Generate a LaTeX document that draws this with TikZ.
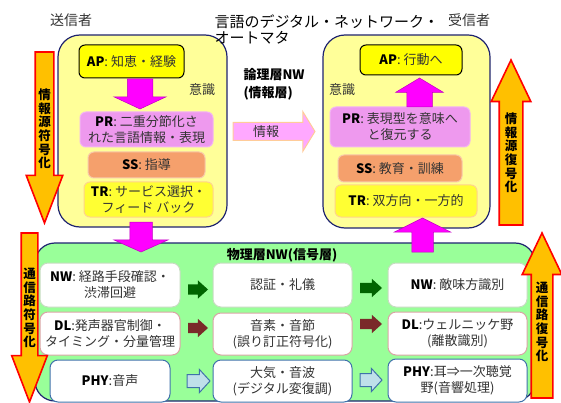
\documentclass[tikz,border=0pt]{standalone}
\usepackage{fontspec}
\setmainfont{Noto Sans CJK JP}
\usepackage{tikz}
\usetikzlibrary{shapes.arrows}

\definecolor{navy}{HTML}{1F2470}
\definecolor{paleyellow}{HTML}{FFFF99}
\definecolor{apyellow}{HTML}{FFFF00}
\definecolor{palegreen}{HTML}{99FF99}
\definecolor{orchidfill}{HTML}{EE99EE}
\definecolor{orchidline}{HTML}{F2B4F2}
\definecolor{salmonfill}{HTML}{F5A06C}
\definecolor{salmonline}{HTML}{F8C8A8}
\definecolor{trfill}{HTML}{FFFF33}
\definecolor{trline}{HTML}{FFD38C}
\definecolor{infofill}{HTML}{FFA8FF}
\definecolor{infoline}{HTML}{FFCC99}
\definecolor{brightmagenta}{HTML}{FF00FF}
\definecolor{magentaline}{HTML}{C000C0}
\definecolor{codeorange}{HTML}{FFC000}
\definecolor{codered}{HTML}{FF0000}
\definecolor{darkgreen}{HTML}{006400}
\definecolor{darkbrown}{HTML}{7A2A2A}
\definecolor{lightblue}{HTML}{BFE0EA}
\definecolor{steelblue}{HTML}{3F72AA}
\definecolor{greenline}{HTML}{C6DCC0}
\definecolor{pinkline}{HTML}{D9A5A5}
\definecolor{textgray}{HTML}{333333}

\tikzset{
  bigbox/.style={draw=navy, line width=1.2pt, rounded corners=22pt, inner sep=0pt},
  inbox/.style={rounded corners=6pt, inner sep=0pt, align=center, text=textgray,
                font=\fontsize{13}{16}\selectfont, line width=1pt},
  apbox/.style={inbox, fill=apyellow, draw=black},
  prbox/.style={inbox, fill=orchidfill, draw=orchidline},
  ssbox/.style={inbox, fill=salmonfill, draw=salmonline},
  trbox/.style={inbox, fill=trfill, draw=trline},
  cell/.style={inbox, rounded corners=8pt, fill=white, minimum width=139pt},
  barrow/.style n args={5}{single arrow, inner sep=0pt, outer sep=0pt, minimum width=0pt,
                inner ysep={#1/2}, single arrow head extend={(#2-#1)/2},
                minimum height=#3, single arrow tip angle=#4, anchor=tail, rotate=#5},
  magenta arrow/.style={fill=brightmagenta, draw=magentaline, line width=0.5pt},
  code arrow/.style={fill=codeorange, draw=codered, line width=1.6pt},
  vtext/.style={align=center, font=\fontsize{12.5}{13.6}\selectfont\bfseries, text=black},
  lbl/.style={font=\fontsize{13}{16}\selectfont, text=textgray},
}

\newcommand{\key}[1]{\textcolor{black}{\textbf{#1}}}

\begin{document}
\begin{tikzpicture}[x=1pt, y=-1pt]
\useasboundingbox (0,0) rectangle (561,403);

% sender / receiver
\node[bigbox, fill=paleyellow, minimum width=169pt, minimum height=192pt] (snd) at (142.5,131) {};
\node[bigbox, fill=paleyellow, minimum width=167pt, minimum height=193pt] (rcv) at (406.5,131.5) {};

\node[apbox, minimum width=105pt, minimum height=33pt] (sap) at (131.5,61.5) {\key{AP}: 知恵・経験};
\node[prbox, minimum width=133pt, minimum height=35pt] (spr) at (146.5,129.5) {\key{PR}: 二重分節化さ\\れた言語情報・表現};
\node[ssbox, minimum width=117pt, minimum height=26pt] (sss) at (146.5,165) {\key{SS}: 指導};
\node[trbox, minimum width=129pt, minimum height=35pt] (str) at (148.5,199.5) {\key{TR}: サービス選択・\\フィード バック};
\node[lbl] (sawr) at (202,90) {意識};

\node[apbox, minimum width=102pt, minimum height=30pt] (rap) at (411,60) {\key{AP}: 行動へ};
\node[prbox, minimum width=140pt, minimum height=40pt] (rpr) at (400,127) {\key{PR}: 表現型を意味へ\\と復元する};
\node[ssbox, minimum width=124pt, minimum height=27pt] (rss) at (400,168.5) {\key{SS}: 教育・訓練};
\node[trbox, minimum width=142pt, minimum height=32pt] (rtr) at (406,201) {\key{TR}: 双方向・一方的};
\node[lbl] (rawr) at (342,90) {意識};

\node[barrow={25}{52}{30}{130}{-90}, magenta arrow] (sdown) at (140,79) {};
\node[barrow={25}{47}{29}{118}{90}, magenta arrow] (rup) at (419.5,107) {};

% logical layer
\node[align=left, anchor=west, font=\fontsize{13}{18}\selectfont\bfseries] (logic) at (240,84) {論理層NW\\(情報層)};
\node[barrow={17}{39}{82}{117}{0}, fill=infofill, draw=infoline, line width=1pt] (info) at (233,131.5) {};
\node[lbl] (infolbl) at (266,131.5) {情報};

% physical layer
\node[bigbox, fill=palegreen, rounded corners=20pt, minimum width=500pt, minimum height=158pt] (phys) at (285,322) {};
\node[font=\fontsize{13}{16}\selectfont\bfseries] (physlbl) at (282,255) {物理層NW(信号層)};

\node[barrow={22}{54}{30}{132}{-90}, magenta arrow] (pdown) at (141,222) {};
\node[barrow={21}{56}{34}{127}{90}, magenta arrow] (pup) at (422.5,252) {};

\node[cell, draw=greenline, minimum width=140pt, minimum height=44pt] (nwl) at (110,285) {\key{NW}: 経路手段確認・\\渋滞回避};
\node[cell, draw=greenline, minimum height=44pt] (nwm) at (282.5,285) {認証・礼儀};
\node[cell, draw=greenline, minimum height=44pt] (nwr) at (457.5,285) {\key{NW}: 敵味方識別};

\node[cell, draw=pinkline, minimum width=140pt, minimum height=43pt] (dll) at (110,333.5) {\key{DL}:発声器官制御・\\タイミング・分量管理};
\node[cell, draw=pinkline, minimum height=42pt] (dlm) at (282.5,334) {音素・音節\\(誤り訂正符号化)};
\node[cell, draw=pinkline, minimum height=43pt] (dlr) at (457.5,333.5) {\key{DL}:ウェルニッケ野\\(離散識別)};

\node[cell, draw=steelblue, minimum width=120pt, minimum height=42pt] (phl) at (110,381) {\key{PHY}:音声};
\node[cell, draw=steelblue, minimum height=42pt] (phm) at (282.5,381) {大気・音波\\(デジタル変復調)};
\node[cell, draw=steelblue, minimum height=43pt] (phr) at (457.5,380.5) {\key{PHY}:耳⇒一次聴覚\\野(音響処理)};

\node[barrow={10}{18}{20}{84}{0}, fill=darkgreen] (nwa1) at (188,289.5) {};
\node[barrow={10}{18}{22}{84}{0}, fill=darkgreen] (nwa2) at (360,288) {};
\node[barrow={10}{18}{20}{84}{0}, fill=darkbrown] (dla1) at (188,328) {};
\node[barrow={10}{18}{22}{84}{0}, fill=darkbrown] (dla2) at (360,324) {};
\node[barrow={12}{22}{23}{95}{0}, fill=lightblue, draw=steelblue, line width=1pt] (pha1) at (187,381) {};
\node[barrow={12}{22}{22}{95}{0}, fill=lightblue, draw=steelblue, line width=1pt] (pha2) at (360,380) {};

% coding arrows
\node[barrow={17}{35}{171}{42}{-90}, code arrow] (srcenc) at (44.5,52) {};
\node[vtext] (srcenclbl) at (44.5,129) {情\\報\\源\\符\\号\\化};
\node[barrow={15}{34}{169}{42}{-90}, code arrow] (chenc) at (29.5,233) {};
\node[vtext] (chenclbl) at (29.5,308) {通\\信\\路\\符\\号\\化};
\node[barrow={22}{38}{165}{51}{90}, code arrow] (srcdec) at (511,225) {};
\node[vtext] (srcdeclbl) at (511,153) {情\\報\\源\\復\\号\\化};
\node[barrow={20}{38}{165}{51}{90}, code arrow] (chdec) at (542,398) {};
\node[vtext] (chdeclbl) at (542,322) {通\\信\\路\\復\\号\\化};

% titles
\node[font=\fontsize{14}{16}\selectfont, text=textgray] (sender) at (71,20) {送信者};
\node[font=\fontsize{14}{16}\selectfont, text=textgray] (receiver) at (469,20) {受信者};
\node[align=left, anchor=north west, font=\fontsize{15}{16}\selectfont] (title) at (211,11) {言語のデジタル・ネットワーク・\\オートマタ};
\end{tikzpicture}
\end{document}
